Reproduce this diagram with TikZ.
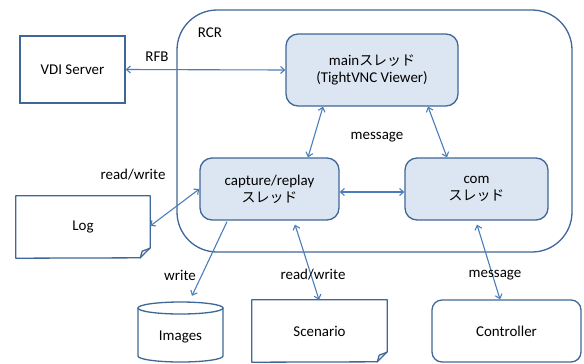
\documentclass[tikz,border=0pt]{standalone}
\usepackage{fontspec}
\setmainfont{Carlito}
\newfontfamily\jp{Noto Sans CJK JP}
\usetikzlibrary{arrows.meta,shapes.geometric,calc}
\definecolor{bord}{HTML}{3F6797}
\definecolor{fillb}{HTML}{DCE6F2}
\definecolor{arr}{HTML}{4A7EBB}
\begin{document}
\begin{tikzpicture}[x=1bp,y=-1bp,
  font=\fontsize{15}{17}\selectfont,
  box/.style={draw=bord,line width=1.3bp,minimum width=#1,inner sep=0pt},
  thread/.style={draw=bord,fill=fillb,line width=1.3bp,rounded corners=12bp,inner sep=0pt,align=center},
  conn/.style={draw=arr,line width=1.1bp,{Straight Barb[length=4bp,width=7bp]}-{Straight Barb[length=4bp,width=7bp]}},
  conn1/.style={draw=arr,line width=1.1bp,-{Straight Barb[length=4bp,width=7bp]}},
  lbl/.style={inner sep=0pt}]
\useasboundingbox (0,0) rectangle (584,363);
\fill[white] (0,0) rectangle (584,363);
\begin{scope}
\clip (0,0) rectangle (584,363);
% RCR container
\draw[draw=bord,line width=1.3bp,rounded corners=40bp] (177,10) rectangle (572,252);
\node[lbl] (rcr) at (210,33) {RCR};
% VDI server
\node[box=105bp,minimum height=67bp] (vdi) at (72.5,69.5) {VDI Server};
% threads
\node[thread,minimum width=172bp,minimum height=72bp] (main) at (372,70)
  {main{\jp\fontsize{14}{16}\selectfont スレッド}\\[0bp](TightVNC Viewer)};
\node[thread,minimum width=139bp,minimum height=62bp] (cap) at (269.5,189)
  {capture/replay\\[0bp]{\jp\fontsize{14}{16}\selectfont スレッド}};
\node[thread,minimum width=143bp,minimum height=62bp] (com) at (476.5,189)
  {com\\[0bp]{\jp\fontsize{14}{16}\selectfont スレッド}};
% Log document
\node[minimum width=134bp,minimum height=62bp,inner sep=0pt] (log) at (83,227) {Log};
\draw[draw=bord,line width=1.3bp,line join=round]
  (log.north west) -- (log.north east) -- ++(0,52) -- ++(-10,10) -- (log.south west) -- cycle;
\draw[draw=bord,line width=1.3bp,line join=round]
  ($(log.south east)+(-10,0)$) -- ++(2,-7) -- ++(8,-3);
% Scenario document
\node[minimum width=135bp,minimum height=62bp,inner sep=0pt] (scen) at (319.5,331) {Scenario};
\draw[draw=bord,line width=1.3bp,line join=round]
  (scen.north west) -- (scen.north east) -- ++(0,52) -- ++(-10,10) -- (scen.south west) -- cycle;
\draw[draw=bord,line width=1.3bp,line join=round]
  ($(scen.south east)+(-10,0)$) -- ++(2,-7) -- ++(8,-3);
% Images cylinder
\node[minimum width=85bp,minimum height=61bp,inner sep=0pt] (img) at (180.5,332.5) {};
\draw[draw=bord,line width=1.3bp]
  (138,308) -- (138,356) arc[start angle=180,end angle=360,x radius=42.5,y radius=-6] -- (223,308);
\draw[draw=bord,line width=1.3bp] (180.5,308) ellipse[x radius=42.5,y radius=6];
\node[lbl] at (180.5,337) {Images};
% Controller
\node[draw=bord,line width=1.3bp,rounded corners=10bp,minimum width=149bp,minimum height=62bp,inner sep=0pt] (ctrl) at (506.5,331) {Controller};
\end{scope}
% connectors
\draw[conn] (vdi.east) -- (main.west);
\node[lbl] at (157,57) {RFB};
\draw[conn] ([xshift=-49bp]main.south) -- ([xshift=38.5bp]cap.north);
\draw[conn] ([xshift=56bp]main.south) -- ([xshift=-29.5bp]com.north);
\node[lbl] at (377,137) {message};
\draw[conn] ([yshift=-3bp]cap.east) -- ([yshift=-3bp]com.west);
\draw[conn] ([yshift=1bp]log.east) -- (cap.west);
\node[lbl] at (133,175) {read/write};
\draw[conn1] ([xshift=-42.5bp,yshift=-1bp]cap.south) -- ([xshift=11.5bp,yshift=6bp]img.north);
\node[lbl] at (180,275) {write};
\draw[conn] ([xshift=25.5bp,yshift=-4bp]cap.south) -- ([xshift=-0.5bp]scen.north);
\node[lbl] at (313,275) {read/write};
\draw[conn] ([xshift=0.5bp,yshift=-4bp]com.south) -- ([xshift=-6.5bp]ctrl.north);
\node[lbl] at (495,275) {message};
\end{tikzpicture}
\end{document}
